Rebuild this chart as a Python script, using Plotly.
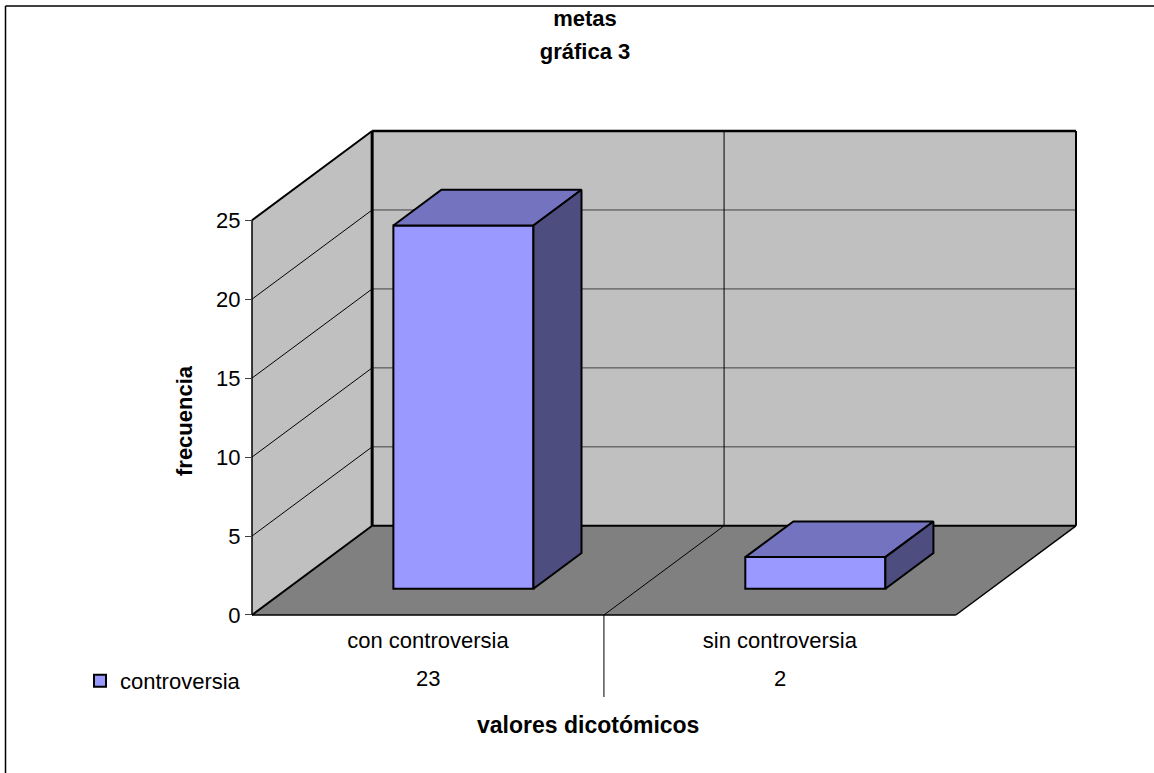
import plotly.graph_objects as go

categories = ["con controversia", "sin controversia"]
values = [23, 2]
series_name = "controversia"
y_ticks = [0, 5, 10, 15, 20, 25]
title_lines = ["metas", "gráfica 3"]
x_title = "valores dicotómicos"
y_title = "frecuencia"

FONT = "Liberation Sans, Arial, sans-serif"
W, H = 1154, 773
TEXT_SIZE = 22
# plot-area geometry in page pixels
LEFT, RIGHT, TOP, BOTTOM = 249, 1078, 129, 618
X0_PX, Y0_PX = 252, 615
CAT_PX, UNIT_PX = 351.5, 15.76
# oblique depth vector, in axis units
DX, DY = 120 / CAT_PX, 89 / UNIT_PX
# bar placement in the depth
D_FRONT, D_BACK = 0.295, 0.695
BAR_W = 0.398
VMAX = y_ticks[-1]
N = len(categories)


def proj(c, v, d):
    return c + d * DX, v + d * DY


def px(x):
    return (x - LEFT) / (RIGHT - LEFT)


def py(y):
    return (BOTTOM - y) / (BOTTOM - TOP)


def poly(points):
    coords = [proj(*p) for p in points]
    return "M" + "L".join(f"{x:.4f},{y:.4f}" for x, y in coords) + "Z"


def seg(a, b, color="#000000", width=1):
    (x0, y0), (x1, y1) = proj(*a), proj(*b)
    return dict(type="line", xref="x", yref="y", x0=x0, y0=y0, x1=x1, y1=y1,
                line=dict(color=color, width=width), layer="below")


WALL, FLOOR = "#C0C0C0", "#808080"
FRONT, TOPC, SIDE = "#9999FF", "#7373BF", "#4D4D80"

shapes = [
    dict(type="path", xref="x", yref="y", layer="below", fillcolor=WALL, line=dict(width=0),
         path=poly([(0, 0, 1), (N, 0, 1), (N, VMAX, 1), (0, VMAX, 1)])),
    dict(type="path", xref="x", yref="y", layer="below", fillcolor=WALL, line=dict(width=0),
         path=poly([(0, 0, 0), (0, 0, 1), (0, VMAX, 1), (0, VMAX, 0)])),
    dict(type="path", xref="x", yref="y", layer="below", fillcolor=FLOOR, line=dict(width=0),
         path=poly([(0, 0, 0), (N, 0, 0), (N, 0, 1), (0, 0, 1)])),
]
for t in y_ticks[1:-1]:
    shapes.append(seg((0, t, 0), (0, t, 1), "#000000", 1))
    shapes.append(seg((0, t, 1), (N, t, 1), "#404040", 1))
# category divider on the back wall and the floor
shapes.append(seg((1, 0, 1), (1, VMAX, 1), "#000000", 1))
shapes.append(seg((1, 0, 0), (1, 0, 1), "#000000", 1))
# frame
shapes += [
    seg((0, 0, 0), (0, VMAX, 0), "#000000", 1.5),
    seg((0, VMAX, 0), (0, VMAX, 1), "#000000", 2),
    seg((0, 0, 0), (0, 0, 1), "#000000", 2),
    seg((0, 0, 1), (0, VMAX, 1), "#000000", 3),
    seg((0, VMAX, 1), (N, VMAX, 1), "#000000", 2.5),
    seg((N, 0, 1), (N, VMAX, 1), "#000000", 2),
    seg((0, 0, 1), (N, 0, 1), "#000000", 2),
    seg((0, 0, 0), (N, 0, 0), "#000000", 1.5),
    seg((N, 0, 0), (N, 0, 1), "#000000", 1.5),
]
# data-table divider below the axis
x_div, _ = proj(1, 0, 0)
shapes.append(dict(type="line", xref="x", yref="paper", x0=x_div, x1=x_div, y0=py(615), y1=py(697),
                   line=dict(color="#000000", width=1)))
# chart-area border: only top and left are visible
shapes.append(dict(type="line", xref="paper", yref="paper", x0=px(5.5), x1=px(W + 5), y0=py(6), y1=py(6),
                   line=dict(color="#000000", width=1.5)))
shapes.append(dict(type="line", xref="paper", yref="paper", x0=px(5.5), x1=px(5.5), y0=py(6), y1=py(H + 5),
                   line=dict(color="#000000", width=1.5)))

fig = go.Figure()
centers = [i + 0.5 for i in range(N)]
fig.add_trace(go.Bar(
    x=[proj(c, 0, D_FRONT)[0] for c in centers],
    y=values,
    base=[proj(0, 0, D_FRONT)[1]] * N,
    width=BAR_W,
    name=series_name,
    marker=dict(color=FRONT, line=dict(color="#000000", width=2)),
    hovertemplate="%{customdata}: %{y}<extra></extra>",
    customdata=categories,
))


def face(points, color):
    coords = [proj(*p) for p in points + points[:1]]
    fig.add_trace(go.Scatter(
        x=[p[0] for p in coords], y=[p[1] for p in coords],
        mode="lines", fill="toself", fillcolor=color,
        line=dict(color="#000000", width=2), showlegend=False, hoverinfo="skip",
    ))


for c, v in zip(centers, values):
    a, b = c - BAR_W / 2, c + BAR_W / 2
    face([(a, v, D_FRONT), (b, v, D_FRONT), (b, v, D_BACK), (a, v, D_BACK)], TOPC)
    face([(b, 0, D_FRONT), (b, v, D_FRONT), (b, v, D_BACK), (b, 0, D_BACK)], SIDE)

annotations = [
    dict(text=str(v), x=c, xref="x", y=py(678), yref="paper", showarrow=False,
         xanchor="center", yanchor="middle",
         font=dict(family=FONT, size=TEXT_SIZE, color="#000000"))
    for c, v in zip(centers, values)
]
annotations += [
    dict(text=f"<b>{x_title}</b>", x=px(588), xref="paper", y=py(725), yref="paper", showarrow=False,
         xanchor="center", yanchor="middle",
         font=dict(family=FONT, size=TEXT_SIZE + 1, color="#000000")),
    dict(text=f"<b>{y_title}</b>", x=px(184), xref="paper", y=py(421), yref="paper", showarrow=False,
         xanchor="center", yanchor="middle",
         textangle=-90, font=dict(family=FONT, size=TEXT_SIZE, color="#000000")),
]

title_html = "<br>".join(f'<span style="font-size:{TEXT_SIZE}px">{t}</span>' for t in title_lines)

fig.update_layout(
    width=W, height=H,
    margin=dict(l=LEFT, r=W - RIGHT, t=TOP, b=H - BOTTOM, autoexpand=False),
    paper_bgcolor="#FFFFFF", plot_bgcolor="rgba(0,0,0,0)",
    title=dict(text=f"<b>{title_html}</b>", x=585 / W, xanchor="center", y=1 - 26 / H, yanchor="top",
               font=dict(family=FONT, size=25, color="#000000")),
    font=dict(family=FONT, size=TEXT_SIZE, color="#000000"),
    shapes=shapes,
    annotations=annotations,
    showlegend=True,
    legend=dict(xref="container", yref="container", x=80 / W, y=1 - 660 / H, xanchor="left", yanchor="top",
                bgcolor="rgba(0,0,0,0)", font=dict(family=FONT, size=TEXT_SIZE, color="#000000")),
    xaxis=dict(
        range=[proj(0, 0, 0)[0] - (X0_PX - LEFT) / CAT_PX, N + DX + (RIGHT - 1076) / CAT_PX],
        showgrid=False, zeroline=False, showline=False,
        tickmode="array", tickvals=centers, ticktext=categories, ticks="",
        tickfont=dict(family=FONT, size=TEXT_SIZE, color="#000000"), ticklabelstandoff=7,
    ),
    yaxis=dict(
        range=[-(BOTTOM - Y0_PX) / UNIT_PX, VMAX + DY + (131 - TOP) / UNIT_PX],
        anchor="free", position=px(X0_PX),
        showgrid=False, zeroline=False, showline=False,
        tickmode="array", tickvals=y_ticks, ticks="outside", ticklen=7, tickwidth=1, tickcolor="#404040",
        tickfont=dict(family=FONT, size=TEXT_SIZE, color="#000000"),
    ),
)

fig.write_html("out.html", config=dict(displayModeBar=False),
               post_script="document.body.style.margin='0';document.body.style.overflow='hidden';")
